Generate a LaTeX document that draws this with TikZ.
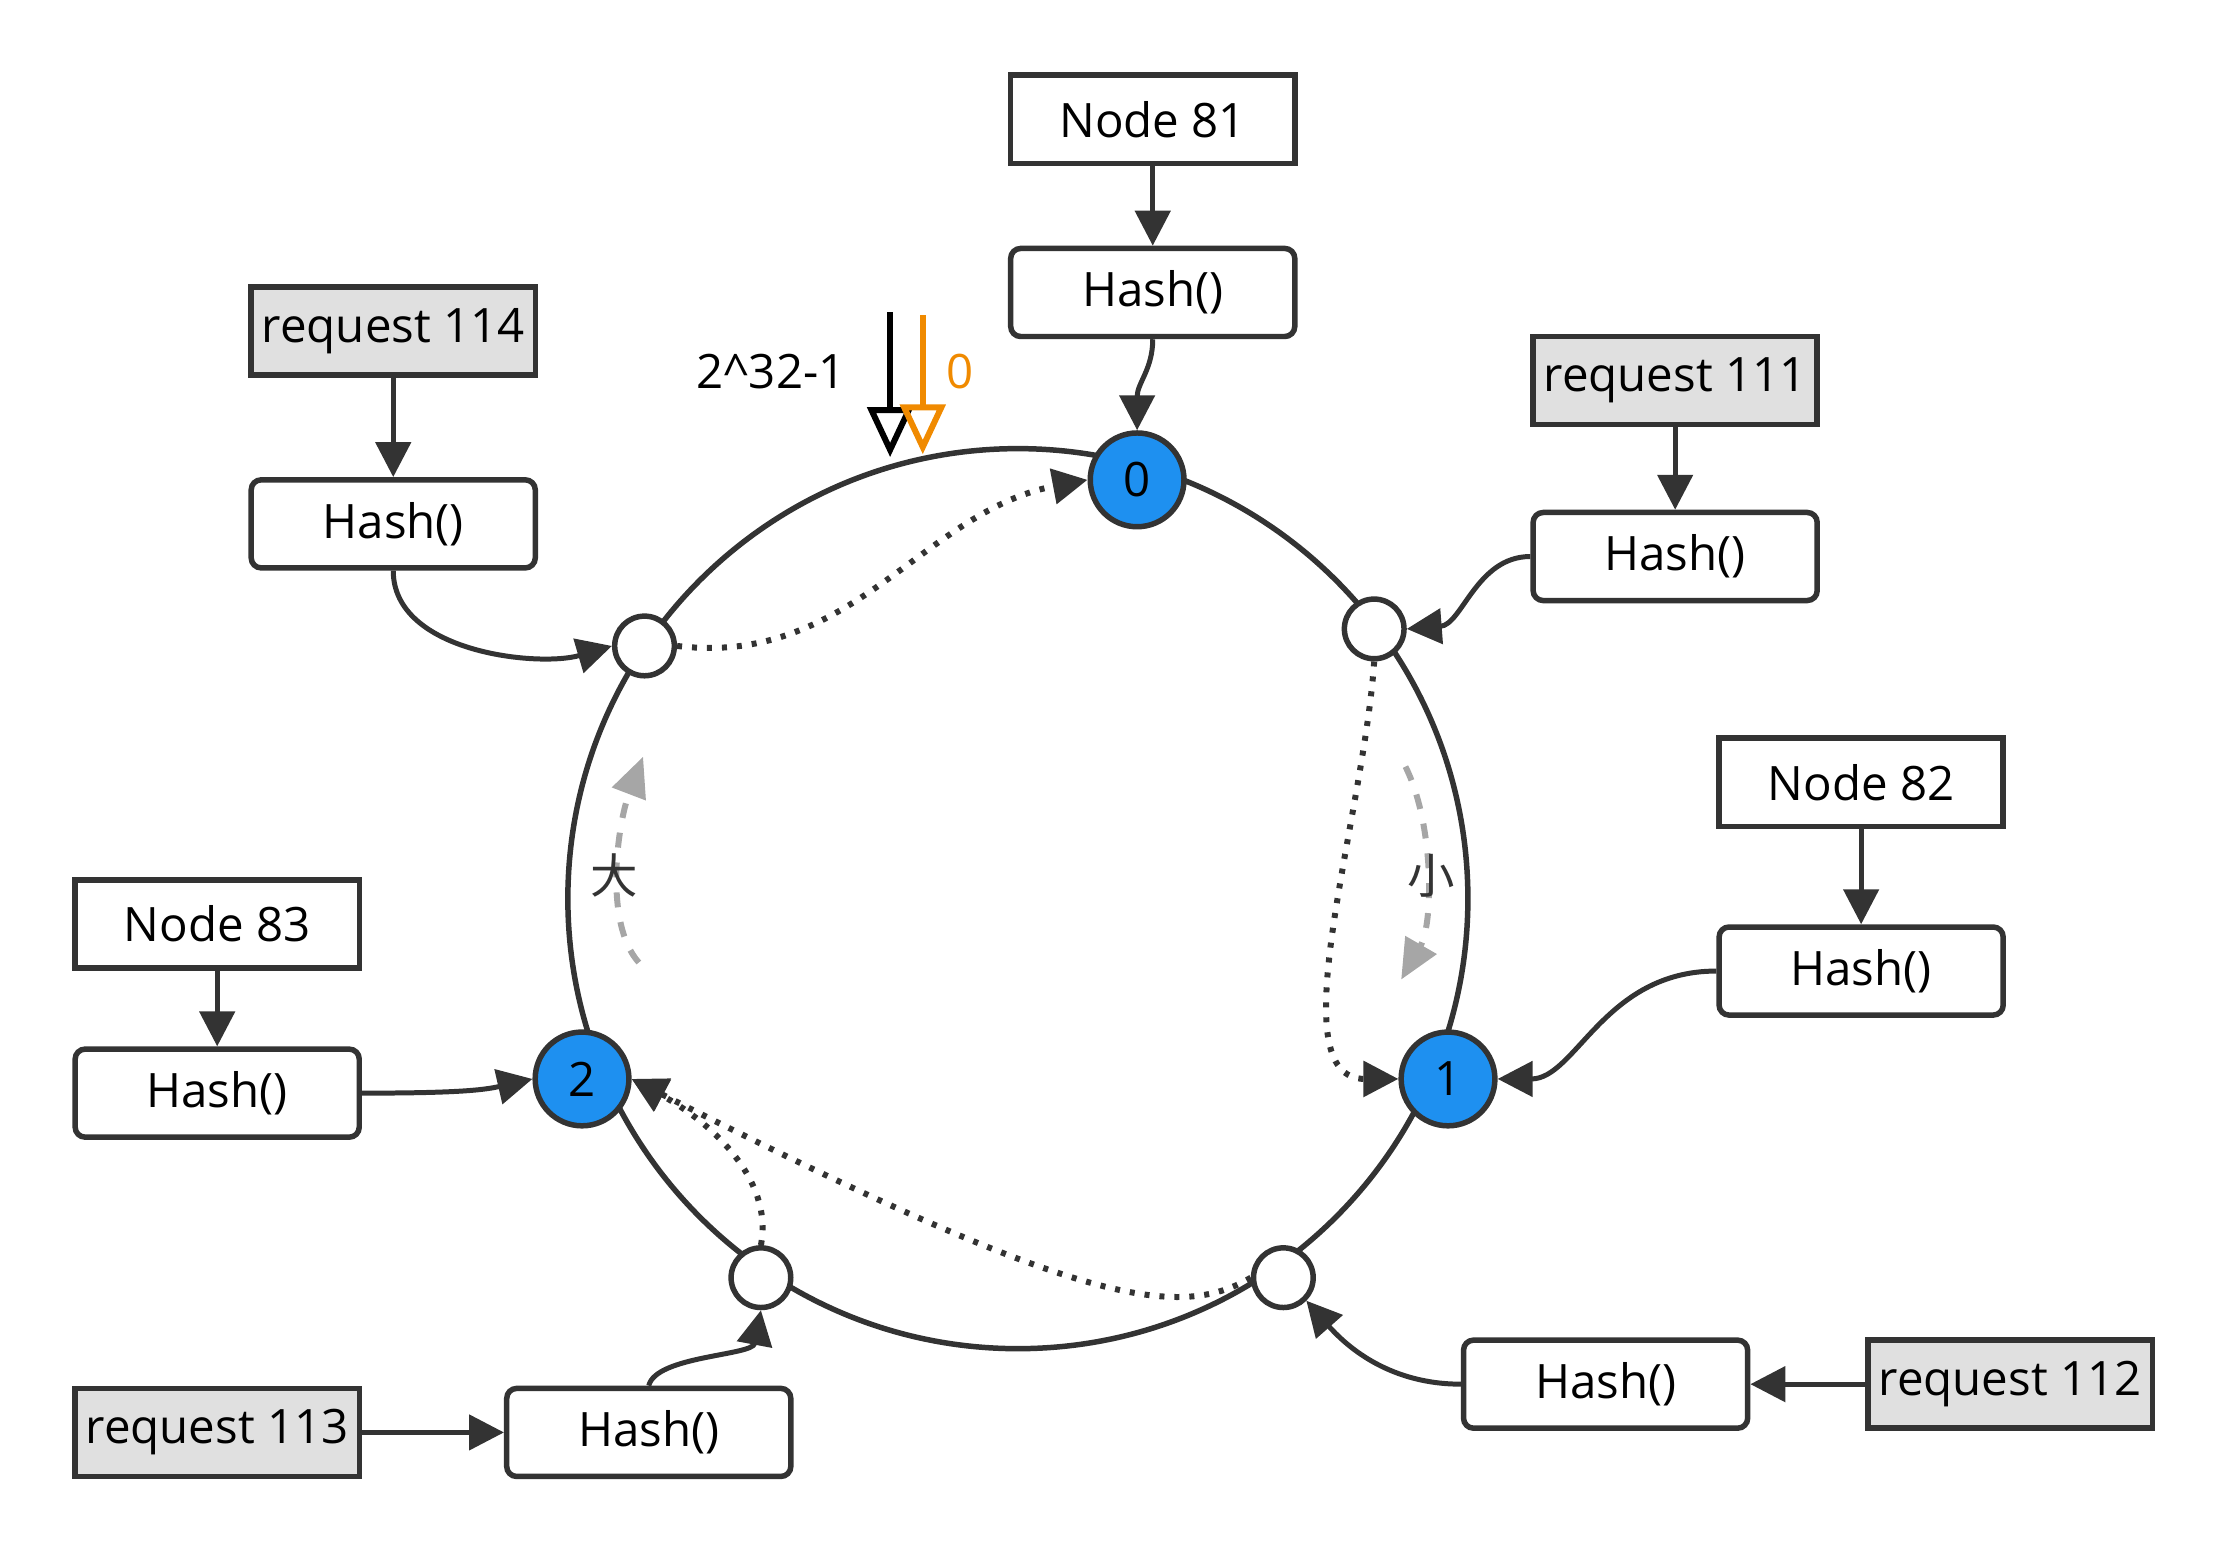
\documentclass[tikz,border=0pt]{standalone}
\usepackage{fontspec}
\setmainfont{Open Sans}
\newfontfamily\cjk{Noto Sans CJK SC}
\usetikzlibrary{arrows.meta}
\definecolor{dk}{HTML}{333333}
\definecolor{bl}{HTML}{1E90F0}
\definecolor{gr}{HTML}{E0E0E0}
\definecolor{org}{HTML}{F08A00}
\begin{document}
\begin{tikzpicture}[x=0.01cm,y=-0.01cm,
 font=\fontsize{9.5}{11}\selectfont,
 box/.style={draw=dk,line width=1.1pt,minimum width=2cm,minimum height=0.62cm,inner sep=0pt},
 hbox/.style={box,rounded corners=2pt},
 rbox/.style={box,fill=gr},
 bnode/.style={circle,draw=dk,fill=bl,line width=1.1pt,minimum size=0.66cm,inner sep=0pt},
 wnode/.style={circle,draw=dk,fill=white,line width=1.1pt,minimum size=0.42cm,inner sep=0pt},
 arr/.style={draw=dk,line width=1pt,-{Triangle[length=7pt,width=7pt]}},
 dot/.style={arr,dotted,line width=1.2pt},
 gd/.style={draw=gray!70,line width=1.2pt,dashed,-{Triangle[length=8pt,width=7pt]}}]
\useasboundingbox (0,0) rectangle (1568,1093);
\draw[dk,line width=1.1pt] (717,633) circle[radius=317];
% nodes
\node[box] (n81) at (812,84) {Node 81};
\node[hbox] (h81) at (812,206) {Hash()};
\node[rbox] (r111) at (1180,268) {request 111};
\node[hbox] (h111) at (1180,392) {Hash()};
\node[box] (n82) at (1311,551) {Node 82};
\node[hbox] (h82) at (1311,684) {Hash()};
\node[rbox] (r112) at (1416,975) {request 112};
\node[hbox] (h112) at (1131,975) {Hash()};
\node[rbox] (r113) at (153,1009) {request 113};
\node[hbox] (h113) at (457,1009) {Hash()};
\node[box] (n83) at (153,651) {Node 83};
\node[hbox] (h83) at (153,770) {Hash()};
\node[rbox] (r114) at (277,233) {request 114};
\node[hbox] (h114) at (277,369) {Hash()};
\node[bnode] (b0) at (801,338) {0};
\node[bnode] (b1) at (1020,760) {1};
\node[bnode] (b2) at (410,760) {2};
\node[wnode] (w1) at (454,455) {};
\node[wnode] (w2) at (968,443) {};
\node[wnode] (w3) at (904,900) {};
\node[wnode] (w4) at (536,900) {};
% solid arrows
\draw[arr] (n81) -- (h81);
\draw[arr] (h81.south) .. controls (812,260) and (801,270) .. (b0.north);
\draw[arr] (r111) -- (h111);
\draw[arr] (n82) -- (h82);
\draw[arr] (n83) -- (h83);
\draw[arr] (r114) -- (h114);
\draw[arr] (r112) -- (h112);
\draw[arr] (r113) -- (h113);
\draw[arr] (h114.south) .. controls (277,460) and (380,470) .. (w1.west);
\draw[arr] (h111.west) .. controls (1040,392) and (1030,440) .. (w2.east);
\draw[arr] (h82.west) .. controls (1130,684) and (1110,760) .. (b1.east);
\draw[arr] (h83.east) .. controls (320,770) and (340,768) .. (b2.west);
\draw[arr] (h113.north) .. controls (462,955) and (530,955) .. (w4.south);
\draw[arr] (h112.west) .. controls (980,975) and (950,950) .. (w3.south east);
% dotted
\draw[dot] (w1.east) .. controls (600,470) and (650,360) .. (b0.west);
\draw[dot] (w2.south) .. controls (960,580) and (900,760) .. (b1.west);
\draw[dot] (w4.north) .. controls (545,830) and (500,790) .. (b2.east);
\draw[dot] (w3.west) .. controls (830,930) and (760,920) .. (b2.east);
% gray
\draw[gd] (450,678) .. controls (425,650) and (435,580) .. (453,533);
\draw[gd] (990,540) .. controls (1010,580) and (1010,650) .. (987,690);
\node[font=\cjk\fontsize{9.5}{11}\selectfont,text=dk] at (433,617) {大};
\node[font=\cjk\fontsize{9.5}{11}\selectfont,text=dk] at (1008,617) {小};
% 2^32-1
\node[anchor=east] (t) at (608,262) {2\^{}32-1};
\coordinate (ta) at (627,220); \coordinate (tb) at (627,322);
\draw[line width=1.2pt,-{Triangle[open,length=10pt,width=9pt]}] (ta) -- (tb);
\coordinate (oa) at (650,222); \coordinate (ob) at (650,320);
\draw[org,line width=1.2pt,-{Triangle[open,length=10pt,width=9pt]}] (oa) -- (ob);
\node[text=org] (z) at (676,262) {0};
\end{tikzpicture}
\end{document}
